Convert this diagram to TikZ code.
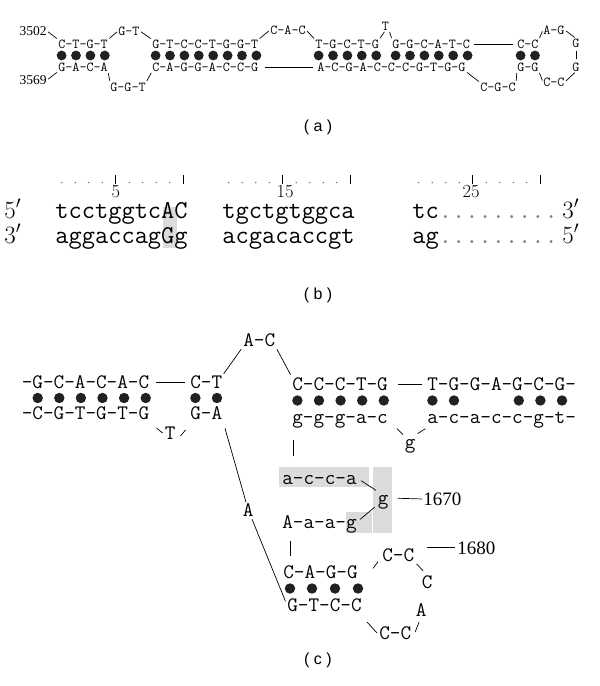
\documentclass[tikz,border=0pt]{standalone}
\usepackage{fontspec}
\newfontfamily\serf{Liberation Serif}
\newfontfamily\sanf{Liberation Sans}
\definecolor{hl}{gray}{0.86}
\definecolor{dotc}{gray}{0.13}
\begin{document}
\begin{tikzpicture}[x=1pt,y=-1pt,line width=0.7pt,
  sa/.style={font=\fontsize{13.7}{14}\selectfont\ttfamily, inner sep=0pt, anchor=west, text height=8.4pt, text depth=0pt},
  sc/.style={font=\fontsize{20.6}{21}\selectfont\ttfamily, inner sep=0pt, anchor=west, text height=12.6pt, text depth=0pt},
  sb/.style={font=\fontsize{25.7}{26}\selectfont\ttfamily, inner sep=0pt, anchor=base west, text height=15pt},
  numa/.style={font=\fontsize{13.5}{14}\selectfont\serf, inner sep=0pt, anchor=east},
  numc/.style={font=\fontsize{19}{19}\selectfont\serf, inner sep=0pt, anchor=west},
  numb/.style={font=\fontsize{18.5}{19}\selectfont, inner sep=0pt, anchor=base, text depth=0pt},
  prim/.style={font=\fontsize{23}{23}\selectfont, inner sep=0pt, anchor=base west},
  lab/.style={font=\fontsize{16}{16}\selectfont\sanf, inner sep=0pt},
  cn/.style={shorten <=1.5pt, shorten >=1.5pt},
  pd/.style={fill=dotc}
]
\path[use as bounding box] (0,0) rectangle (600,686);

% ---------------- (a) ----------------
\node[numa] (n3502) at (47,31) {3502};
\node[numa] (n3569) at (47,80) {3569};
\node[sa] (a1t) at (58,44) {C-T-G-T};
\node[sa] (a1b) at (58,67) {G-A-C-A};
\node[sa] (a2t) at (118,31) {G-T};
\node[sa] (a2b) at (110,87) {G-G-T};
\node[sa] (a3t) at (152,44) {G-T-C-C-T-G-G-T};
\node[sa] (a3b) at (152,67) {C-A-G-G-A-C-C-G};
\node[sa] (a4t) at (270,30) {C-A-C};
\node[sa] (a5t) at (315,44) {T-G-C-T-G};
\node[sa] (a5b) at (317,67) {A-C-G-A-C-C-C-G-T-G-G};
\node[sa] (a7t) at (381.4,26) {T};
\node[sa] (a6t) at (392,44) {G-G-C-A-T-C};
\node[sa] (a8t) at (517,44) {C-C};
\node[sa] (a8b) at (517,67) {G-G};
\node[sa] (a9) at (480,87) {C-G-C};
\node[sa] (a10) at (543,30) {A-G};
\node[sa] (a11) at (572,43) {G};
\node[sa] (a12) at (572,67) {G};
\node[sa] (a13) at (543,82) {C-C};
\foreach \x in {61.6,76,90.4,104.8} \fill[pd] (\x,55.5) circle (4.9pt);
\foreach \k in {0,...,7} \fill[pd] ({155.6+14.4*\k},55.5) circle (4.9pt);
\foreach \k in {0,...,4} \fill[pd] ({318.6+14.4*\k},55.5) circle (4.9pt);
\foreach \k in {0,...,5} \fill[pd] ({395.6+14.4*\k},55.5) circle (4.9pt);
\foreach \x in {520.6,535} \fill[pd] (\x,55.5) circle (4.9pt);
\draw[cn] (n3502.east) -- (a1t.north west);
\draw[cn] (n3569.east) -- (a1b.south west);
\draw[cn] (a1t.north east) -- (a2t.west);
\draw[cn] (a2t.east) -- (a3t.north west);
\draw[cn] (a1b.south east) -- (a2b.north west);
\draw[cn] (a2b.north east) -- (a3b.south west);
\draw[cn] (a3t.north east) -- (a4t.west);
\draw[cn] (a4t.east) -- (a5t.north west);
\draw[shorten <=6pt, shorten >=4pt] (a3b.east) -- (a5b.west);
\draw[cn] (a5t.north east) -- (a7t.south);
\draw[cn] (a7t.south east) -- (a6t.north west);
\draw[shorten <=4pt, shorten >=4pt] (a6t.east) -- (a8t.west);
\draw[cn] (a5b.south east) -- (a9.north west);
\draw[cn] (a9.north east) -- (a8b.south west);
\draw[cn] (a8t.north east) -- (a10.west);
\draw[cn] (a10.east) -- (a11.north);
\draw[shorten <=3pt, shorten >=3pt] (a11.south) -- (a12.north);
\draw[cn] (a8b.south east) -- (a13.west);
\draw[cn] (a13.east) -- (a12.south);
\node[lab] (la) at (318,127) {( a )};

% ---------------- (b) ----------------
\fill[hl] (163,207) rectangle (176.5,248);
\foreach \xo in {55,222,412} {
  \foreach \i in {1,2,3,4,6,7,8,9} \fill[gray] ({\xo+13.5*(\i-0.5)},182.5) circle (0.9pt);
  \foreach \i in {5,10} \draw[line width=0.8pt] ({\xo+13.5*(\i-0.5)},175) -- ({\xo+13.5*(\i-0.5)},183.5);
}
\node[numb] (r5) at (115.75,197.5) {5};
\node[numb] (r15) at (285,197.5) {15};
\node[numb] (r25) at (471,197.5) {25};
\node[prim] (p5a) at (4,218) {$5'$};
\node[prim] (p3a) at (4,243) {$3'$};
\node[sb] (b1t) at (55,218) {tcctggtcAC};
\node[sb] (b1b) at (55,243) {aggaccagGg};
\node[sb] (b2t) at (222,218) {tgctgtggca};
\node[sb] (b2b) at (222,243) {acgacaccgt};
\node[sb] (b3t) at (412,218) {tc\textcolor{gray}{.........}};
\node[sb] (b3b) at (412,243) {ag\textcolor{gray}{.........}};
\node[prim] (p3b) at (562,218) {$3'$};
\node[prim] (p5b) at (562,243) {$5'$};
\node[lab] (lb) at (318,295) {( b )};

% ---------------- (c) ----------------
\fill[hl] (279,467) rectangle (369,487);
\fill[hl] (373,467) rectangle (392,533);
\fill[hl] (346,512) rectangle (372,533);
\node[sc] (c1t) at (21.5,382) {-G-C-A-C-A-C};
\node[sc] (c1b) at (21.5,413) {-C-G-T-G-T-G};
\node[sc] (c2t) at (190,382) {C-T};
\node[sc] (c2b) at (190,413) {G-A};
\node[sc] (c3) at (164.6,433) {T};
\node[sc] (c4) at (243,340) {A-C};
\node[sc] (c5t) at (292,384) {C-C-C-T-G};
\node[sc] (c5b) at (292,417) {g-g-g-a-c};
\node[sc] (c6t) at (427,384) {T-G-G-A-G-C-G-};
\node[sc] (c6b) at (427,417) {a-c-a-c-c-g-t-};
\node[sc] (c7) at (404.6,442) {g};
\node[sc] (c8) at (282,478) {a-c-c-a};
\node[sc] (c9) at (377.6,498) {g};
\node[numc] (c10) at (423,499) {1670};
\node[sc] (c11) at (282,522) {A-a-a-g};
\node[sc] (c12) at (283,572) {C-A-G-G};
\node[sc] (c13) at (287,605) {G-T-C-C};
\node[sc] (c14) at (382,555) {C-C};
\node[numc] (c15) at (457,548) {1680};
\node[sc] (c16) at (421.6,582) {C};
\node[sc] (c17) at (415.6,610) {A};
\node[sc] (c18) at (379,633) {C-C};
\node[sc] (c19) at (242.6,510) {A};
\foreach \x in {37.7,59.3,80.9,102.5,124.1,145.7,195.4,217} \fill[pd] (\x,398) circle (5.2pt);
\foreach \x in {297.4,319,340.6,362.2,383.8,432.4,454,518.8,540.4,562} \fill[pd] (\x,400.5) circle (5.2pt);
\foreach \x in {290,312,335,358} \fill[pd] (\x,588.5) circle (5.2pt);
\draw[shorten <=6pt, shorten >=5pt] (c1t.east) -- (c2t.west);
\draw ([shift={(-8,-5)}]c3.west) -- ([shift={(-2,0)}]c3.west);
\draw ([shift={(4.6,3)}]c3.east) -- ([shift={(9.6,-3)}]c3.east);
\draw[shorten <=2pt, shorten >=3pt] (c2t.north east) -- (c4.south west);
\draw[shorten <=3pt, shorten >=3pt] (c4.south east) -- (c5t.north west);
\draw[shorten <=10pt, shorten >=5pt] (c5t.east) -- (c6t.west);
\draw ([shift={(-7.6,-6.7)}]c7.north west) -- ([shift={(-1.6,-0.7)}]c7.north west);
\draw ([shift={(1.6,-1.7)}]c7.north east) -- ([shift={(9.6,-6.7)}]c7.north east);
\draw ([shift={(11,-15)}]c8.north west) -- ([shift={(11,-31)}]c8.north west);
\draw[shorten <=5pt, shorten >=2pt] (c8.east) -- (c9.north west);
\draw[shorten <=9pt, shorten >=1pt] (c9.east) -- (c10.west);
\draw[shorten <=4pt, shorten >=4pt] (c11.east) -- (c9.south west);
\draw ([shift={(7,-9.7)}]c12.north west) -- ([shift={(7,-24.7)}]c12.north west);
\draw ([shift={(-9,6.7)}]c14.south west) -- ([shift={(-4,0)}]c14.south west);
\draw[shorten <=3pt, shorten >=6pt] (c14.south east) -- (c16.north);
\draw ([xshift=-30pt,yshift=1pt]c15.west) -- ([xshift=-2pt,yshift=1pt]c15.west);
\draw ([shift={(-12,-11)}]c18.west) -- ([shift={(-2,0)}]c18.west);
\draw ([shift={(3.6,-1)}]c18.east) -- ([shift={(7.6,-11)}]c18.east);
\draw[shorten <=9pt, shorten >=8pt] (c2b.south east) -- (c19.center);
\draw[shorten <=10pt, shorten >=4pt] (c19.center) -- (c13.west);
\node[lab] (lc) at (318,660) {( c )};
\end{tikzpicture}
\end{document}
